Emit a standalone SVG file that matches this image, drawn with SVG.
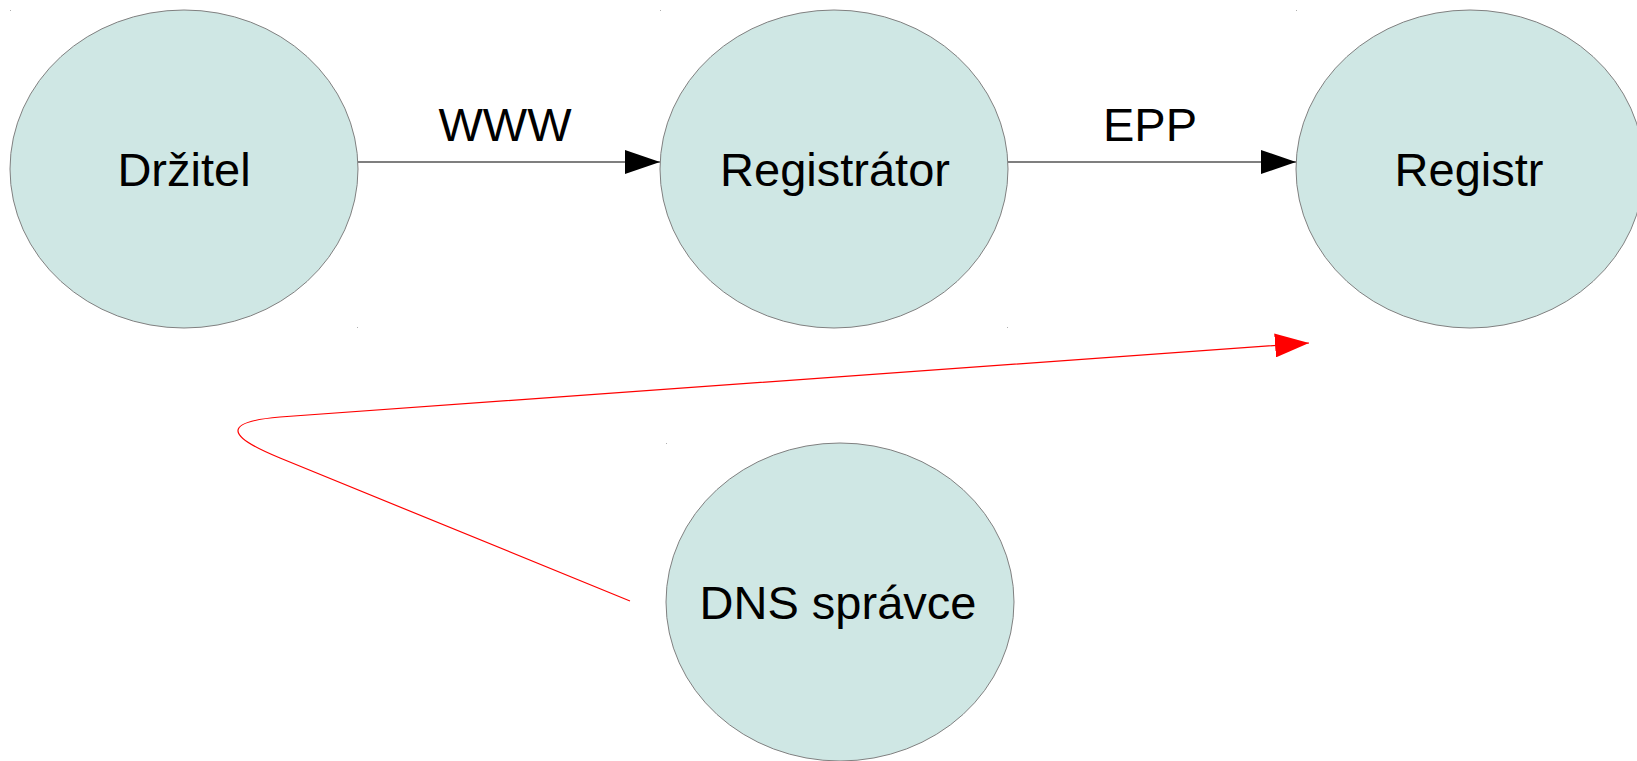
<svg xmlns="http://www.w3.org/2000/svg" width="1637" height="761" viewBox="0 0 1637 761">
<style>
.node{fill:#cfe7e4;stroke:#808080;stroke-width:1}
.lbl{font-family:"Liberation Sans",Arial,sans-serif;font-size:47px;fill:#000;text-anchor:middle}
.dot{fill:#b0b0b0}
</style>
<defs>
<marker id="ab" markerWidth="35" markerHeight="24" refX="35" refY="12" orient="auto" markerUnits="userSpaceOnUse"><path d="M0,0 L35,12 L0,24 Z" fill="#000"/></marker>
<marker id="ar" markerWidth="34" markerHeight="24" refX="34" refY="12" orient="auto" markerUnits="userSpaceOnUse"><path d="M0,0 L34,12 L0,24 Z" fill="#ff0000"/></marker>
</defs>
<rect width="1637" height="761" fill="#fff"/>
<g id="connectors">
<line x1="358" y1="162" x2="660" y2="162" stroke="#000" stroke-width="1.2" marker-end="url(#ab)"/>
<text class="lbl" x="505" y="141">WWW</text>
<line x1="1008" y1="162" x2="1296" y2="162" stroke="#000" stroke-width="1.2" marker-end="url(#ab)"/>
<text class="lbl" x="1150" y="141">EPP</text>
<path d="M630,601 L280,458 C226,436 222,422 280,417 L1309,343" fill="none" stroke="#ff0000" stroke-width="1.2" marker-end="url(#ar)"/>
</g>
<g id="drzitel">
<ellipse class="node" cx="184" cy="169" rx="174" ry="159"/>
<text class="lbl" x="184" y="186">Držitel</text>
</g>
<g id="registrator">
<ellipse class="node" cx="834" cy="169" rx="174" ry="159"/>
<text class="lbl" x="835" y="186">Registrátor</text>
</g>
<g id="registr">
<ellipse class="node" cx="1470" cy="169" rx="174" ry="159"/>
<text class="lbl" x="1469" y="186">Registr</text>
</g>
<g id="dns">
<ellipse class="node" cx="840" cy="602" rx="174" ry="159"/>
<text class="lbl" x="838" y="619">DNS správce</text>
</g>
<g id="marks">
<rect class="dot" x="10" y="10" width="1" height="1"/>
<rect class="dot" x="357" y="327" width="1" height="1"/>
<rect class="dot" x="660" y="10" width="1" height="1"/>
<rect class="dot" x="1007" y="327" width="1" height="1"/>
<rect class="dot" x="1296" y="10" width="1" height="1"/>
<rect class="dot" x="666" y="443" width="1" height="1"/>
</g>
</svg>
